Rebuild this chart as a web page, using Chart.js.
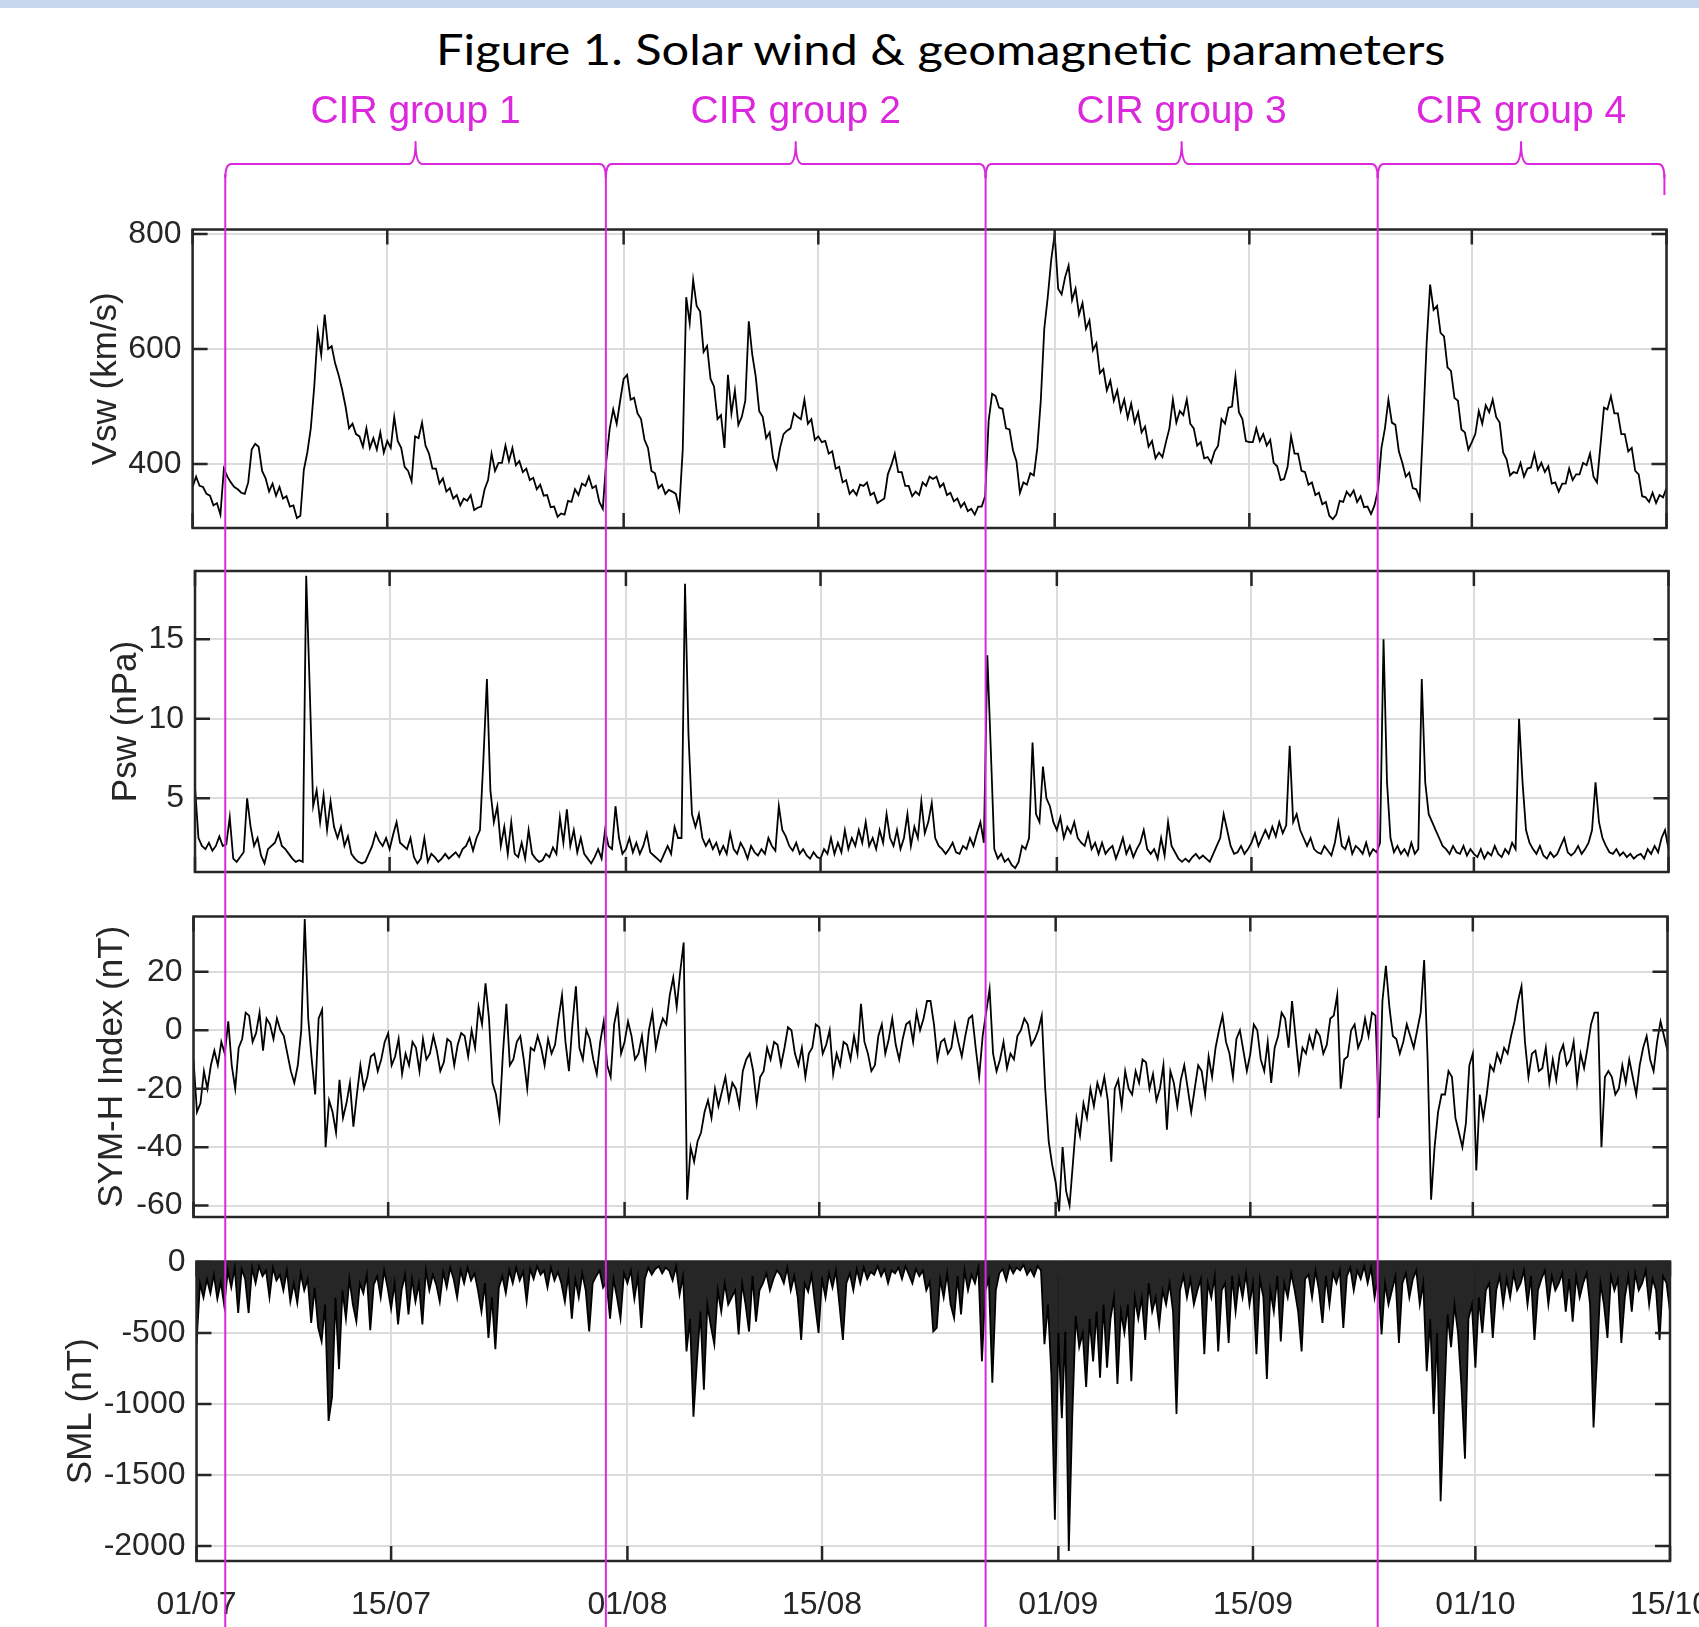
<!DOCTYPE html>
<html>
<head>
<meta charset="utf-8">
<title>Solar wind & geomagnetic parameters</title>
<script src="https://cdn.jsdelivr.net/npm/chart.js@4.4.1/dist/chart.umd.min.js"></script>
<style>
  html, body { margin: 0; padding: 0; background: #fff; overflow: hidden; }
  #page { position: relative; width: 1699px; height: 1627px; background: #fff; overflow: hidden; }
  #topbar { position: absolute; left: 0; top: 0; width: 1699px; height: 8px; background: #c6d9ec; }
  #title {
    position: absolute; top: 24px; left: 941px; white-space: nowrap;
    font-family: Lato, "Open Sans", sans-serif; font-size: 42px; line-height: 1.2; color: #000;
    transform-origin: 0 0;
  }
  .cir {
    position: absolute; top: 90px; white-space: nowrap;
    font-family: "Liberation Sans", Arial, sans-serif; font-size: 39px; line-height: 39px;
    color: #dc28dc; transform: translateX(-50%);
  }
  canvas.panel { position: absolute; left: 0; }
  #overlay { position: absolute; left: 0; top: 0; pointer-events: none; }
</style>
</head>
<body>
<div id="page">
  <div id="topbar"></div>
  <div id="title">Figure 1. Solar wind &amp; geomagnetic parameters</div>
  <canvas id="overlay" width="1699" height="1627"></canvas>
</div>
<script>
// x axis: days since 01/07
const xTickDays = [0, 14, 31, 45, 62, 76, 92, 106];
const xTickLabels = ['01/07', '15/07', '01/08', '15/08', '01/09', '15/09', '01/10', '15/10'];

// solar wind speed (km/s), one value every 6 hours, 4 per row = 1 day
const vswStep = 0.25;
const vsw = [
  360, 378, 362, 360,  348, 345, 328, 332,  312, 392, 378, 368,  360, 356, 350, 348,
  368, 425, 435, 430,  388, 375, 352, 366,  345, 360, 340, 344,  326, 328, 306, 310,
  390, 420, 462, 535,  630, 590, 660, 600,  605, 575, 555, 530,  500, 462, 470, 452,
  448, 430, 462, 428,  445, 425, 455, 420,  440, 428, 482, 440,  428, 395, 388, 370,
  448, 445, 472, 432,  418, 392, 392, 366,  375, 352, 358, 340,  346, 328, 340, 336,
  346, 320, 324, 326,  356, 372, 418, 388,  402, 402, 432, 405,  428, 398, 405, 386,
  392, 372, 376, 356,  364, 345, 346, 325,  326, 308, 314, 312,  336, 334, 356, 346,
  366, 362, 378, 358,  362, 334, 322, 405,  462, 495, 470, 510,  548, 555, 512, 515,
  488, 478, 442, 428,  388, 384, 358, 364,  348, 355, 352, 348,  322, 425, 690, 645,
  720, 675, 665, 595,  605, 548, 535, 478,  485, 428, 555, 488,  528, 468, 482, 510,
  648, 590, 552, 492,  482, 445, 455, 410,  392, 428, 452, 458,  462, 488, 482, 478,
  512, 470, 478, 442,  448, 438, 440, 418,  422, 392, 395, 368,  372, 348, 355, 346,
  364, 362, 368, 346,  350, 332, 336, 340,  382, 398, 418, 386,  386, 362, 362, 344,
  352, 346, 368, 362,  378, 374, 378, 360,  366, 346, 350, 335,  340, 325, 333, 318,
  322, 312, 326, 326,  344, 475, 522, 518,  498, 496, 462, 460,  424, 405, 350, 368,
  364, 384, 380, 428,  510, 635, 690, 755,  800, 705, 695, 725,  745, 685, 705, 660,
  680, 635, 650, 598,  610, 558, 565, 528,  545, 510, 528, 492,  512, 480, 505, 472,
  490, 455, 465, 430,  440, 410, 420, 412,  438, 462, 512, 472,  492, 485, 512, 470,
  462, 432, 438, 410,  412, 402, 422, 432,  478, 470, 498, 500,  552, 490, 478, 440,
  438, 438, 462, 440,  452, 432, 442, 402,  396, 372, 374, 395,  448, 418, 418, 388,
  386, 364, 368, 346,  350, 330, 334, 310,  304, 312, 336, 334,  352, 344, 354, 334,
  344, 325, 326, 313,  328, 355, 428, 462,  512, 472, 468, 422,  402, 378, 385, 358,
  356, 340, 468, 610,  712, 668, 675, 628,  622, 568, 562, 515,  510, 460, 455, 425,
  438, 452, 492, 470,  502, 490, 512, 482,  472, 420, 408, 380,  386, 384, 402, 378,
  392, 394, 418, 390,  402, 386, 396, 366,  368, 352, 366, 366,  392, 372, 382, 382,
  402, 398, 418, 378,  368, 432, 498, 495,  518, 488, 488, 452,  452, 422, 428, 388,
  382, 344, 342, 334,  350, 332, 346, 342,  358
];

// dynamic pressure (nPa), one value every 6 hours
const pswStep = 0.25;
const psw = [
  5.7, 2.5, 2.0, 1.8,  2.2, 1.7, 2.0, 2.6,  2.0, 2.1, 3.8, 1.2,  1.0, 1.3, 1.6, 5.0,
  3.2, 2.0, 2.5, 1.4,  0.9, 1.8, 2.0, 2.2,  2.8, 2.0, 1.8, 1.5,  1.2, 1.0, 1.1, 1.0,
  19.0, 12.0, 4.5, 5.5, 3.5, 5.2, 3.0, 4.8, 3.2, 2.5, 3.2, 2.0,  2.6, 1.5, 1.2, 1.0,
  0.9, 1.0, 1.5, 2.0,  2.8, 2.3, 2.0, 2.5,  1.8, 2.7, 3.5, 2.2,  2.0, 1.8, 2.5, 1.3,
  0.9, 1.2, 2.5, 1.0,  1.5, 1.3, 1.0, 1.2,  1.5, 1.2, 1.4, 1.6,  1.3, 1.8, 2.0, 2.5,
  1.7, 2.5, 3.0, 7.5,  12.5, 5.5, 3.5, 4.5, 2.0, 3.2, 1.5, 3.5,  1.5, 1.3, 2.2, 1.2,
  3.0, 1.5, 1.2, 1.0,  1.1, 1.5, 1.3, 1.9,  1.5, 3.8, 2.2, 4.3,  2.0, 3.0, 1.6, 2.5,
  1.5, 1.2, 0.9, 1.3,  1.8, 1.2, 3.0, 2.0,  1.8, 4.5, 2.5, 1.5,  1.8, 2.5, 1.6, 2.2,
  1.5, 2.0, 2.8, 1.6,  1.4, 1.2, 1.0, 1.5,  2.0, 1.5, 3.2, 2.5,  2.5, 18.5, 9.0, 4.0,
  3.2, 4.0, 2.5, 2.0,  2.4, 1.8, 2.2, 1.5,  2.0, 1.5, 2.8, 1.8,  1.5, 2.2, 1.8, 1.2,
  2.0, 1.6, 1.4, 1.8,  1.5, 2.5, 2.0, 1.7,  4.5, 3.0, 2.6, 2.0,  1.7, 2.2, 1.5, 1.8,
  1.4, 1.2, 1.6, 1.3,  1.2, 1.8, 1.5, 2.5,  1.5, 2.2, 1.6, 3.0,  1.8, 2.5, 2.0, 3.0,
  2.2, 3.5, 2.0, 2.5,  1.8, 3.0, 2.2, 4.0,  2.5, 2.0, 3.0, 1.8,  2.5, 4.0, 2.0, 3.2,
  2.5, 4.8, 2.8, 3.5,  4.7, 2.5, 2.0, 1.8,  1.5, 1.8, 2.2, 1.6,  1.5, 2.0, 1.8, 2.5,
  2.0, 2.8, 3.5, 2.2,  14.0, 8.0, 1.8, 1.2, 1.5, 1.0, 1.2, 0.8,  0.6, 1.0, 2.0, 1.8,
  2.5, 8.5, 4.0, 3.5,  7.0, 5.0, 4.5, 3.5,  3.0, 3.8, 2.5, 3.2,  2.8, 3.5, 2.5, 2.2,
  2.0, 2.8, 1.8, 2.2,  1.5, 2.2, 1.5, 1.8,  2.0, 1.2, 1.8, 2.5,  1.5, 2.0, 1.3, 1.8,
  2.2, 3.0, 1.8, 1.5,  1.8, 1.2, 2.5, 1.4,  3.5, 2.0, 1.6, 1.2,  1.0, 1.2, 1.0, 1.3,
  1.5, 1.2, 1.4, 1.2,  1.0, 1.5, 2.0, 2.5,  4.0, 3.0, 2.0, 1.5,  1.6, 2.0, 1.5, 1.8,
  2.2, 2.8, 2.0, 2.5,  3.0, 2.5, 3.2, 2.6,  3.5, 2.8, 3.3, 8.3,  3.5, 4.0, 3.0, 2.5,
  2.0, 2.5, 1.8, 1.6,  1.5, 2.0, 1.7, 1.4,  2.2, 3.5, 2.0, 1.8,  2.5, 1.5, 2.0, 1.8,
  1.5, 2.2, 1.4, 1.8,  1.6, 2.2, 15.0, 6.0, 2.5, 1.6, 2.0, 1.5,  1.8, 1.4, 2.2, 1.5,
  1.8, 12.5, 6.0, 4.0, 3.5, 3.0, 2.5, 2.0,  1.8, 1.5, 2.0, 1.6,  1.5, 2.0, 1.4, 1.8,
  1.5, 1.3, 1.8, 1.2,  1.6, 1.4, 2.0, 1.5,  1.3, 1.8, 1.5, 2.2,  1.8, 10.0, 6.0, 3.0,
  2.2, 1.8, 1.5, 2.0,  1.4, 1.2, 1.6, 1.3,  1.5, 2.0, 2.5, 1.6,  1.4, 1.6, 2.0, 1.5,
  1.8, 2.2, 3.0, 6.0,  3.5, 2.5, 2.0, 1.6,  1.5, 1.8, 1.4, 1.6,  1.3, 1.5, 1.2, 1.4,
  1.5, 1.2, 1.8, 1.5,  2.0, 1.6, 2.5, 3.0,  1.8
];

// SYM-H (nT), one value every 6 hours
const symhStep = 0.25;
const symh = [
  -10, -28, -25, -14,  -20, -12, -7, -12,  -4, -8, 3, -12,  -20, -6, -3, 6,
  5, -4, -1, 6,  -7, 4, 2, -3,  4, 0, -2, -8,  -14, -18, -12, 0,
  38, 4, -10, -22,  4, 7, -40, -24,  -28, -35, -17, -30,  -25, -18, -33, -22,
  -12, -20, -16, -9,  -8, -14, -10, -4,  -1, -12, -9, -3,  -15, -8, -12, -4,
  -6, -14, -3, -10,  -8, -2, -7, -14,  -11, -3, -4, -12,  -5, -1, -2, -9,
  0, -6, 8, 2,  16, 4, -18, -22,  -30, -8, 9, -12,  -10, -4, -2, -10,
  -20, -6, -7, -2,  -6, -12, -3, -8,  -5, 4, 12, -4,  -14, 2, 15, -6,
  -10, 0, -3, -10,  -15, -4, 3, -12,  -16, 2, 8, -8,  -4, 3, -2, -10,
  -8, -2, -12, 0,  6, -6, 0, 4,  2, 12, 18, 8,  20, 30, -58, -40,
  -45, -38, -35, -28,  -24, -30, -20, -26,  -21, -16, -24, -18,  -20, -26, -14, -10,
  -8, -14, -25, -16,  -14, -6, -10, -4,  -5, -12, -6, 1,  0, -8, -12, -6,
  -16, -8, -6, 2,  1, -8, -5, 0,  -15, -8, -12, -4,  -5, -10, -2, -8,
  9, -4, -8, -14,  -12, -2, 2, -8,  -3, 4, -5, -10,  -3, 2, 3, -4,
  6, 0, 4, 10,  10, 2, -10, -4,  -3, -8, -6, 2,  -4, -9, -2, 4,
  5, -6, -16, -2,  6, 14, -8, -14,  -10, -4, -13, -8,  -10, -2, 0, 4,
  2, -5, -3, 0,  5, -20, -38, -46,  -52, -62, -40, -55,  -60, -45, -30, -36,
  -25, -30, -20, -26,  -18, -22, -16, -24,  -45, -20, -17, -26,  -14, -20, -22, -14,
  -18, -10, -11, -20,  -15, -24, -20, -12,  -34, -14, -18, -26,  -17, -12, -20, -28,
  -20, -12, -14, -22,  -9, -16, -6, 0,  5, -4, -8, -16,  -3, 0, -7, -14,
  -8, 2, 0, -10,  -14, -4, -18, -6,  -2, 6, 4, -6,  10, -2, -14, -6,
  -8, -2, -6, 0,  -2, -8, -5, 4,  5, 12, -20, -10,  -9, 0, 2, -6,
  -3, 4, -2, 6,  5, -30, 10, 22,  8, -2, -3, -8,  -4, 2, -2, -6,
  0, 6, 24, -10,  -58, -40, -28, -22,  -22, -14, -16, -30,  -35, -40, -32, -12,
  -8, -48, -22, -30,  -22, -12, -14, -8,  -11, -6, -8, -2,  3, 10, 15, -4,
  -16, -8, -7, -14,  -13, -6, -18, -10,  -17, -8, -5, -12,  -10, -4, -18, -8,
  -13, -6, 2, 6,  6, -40, -16, -14,  -16, -22, -20, -12,  -18, -10, -16, -22,
  -12, -6, -2, -10,  -14, -4, 3, -2,  -7
];

// SML (nT), one value every 6 hours
const smlStep = 0.25;
const sml = [
  -580, -150, -250, -120,  -220, -90, -260, -140,  -310, -60, -180, -40,  -360, -50, -120, -360,
  -40, -150, -30, -100,  -60, -250, -40, -130,  -90, -200, -60, -280,  -150, -290, -80, -200,
  -120, -430, -180, -460,  -560, -300, -1120, -950,  -250, -755, -200, -400,  -120, -300, -420, -150,
  -220, -90, -480, -160,  -100, -250, -60, -180,  -330, -150, -440, -200,  -90, -370, -120, -280,
  -150, -440, -60, -200,  -90, -160, -280, -70,  -180, -40, -120, -250,  -60, -150, -40, -130,
  -80, -200, -350, -150,  -535, -250, -615, -180,  -100, -220, -60, -150,  -40, -130, -70, -280,
  -50, -120, -30, -90,  -60, -180, -40, -130,  -70, -150, -280, -90,  -400, -120, -250, -80,
  -200, -490, -150, -100,  -60, -180, -140, -400,  -120, -250, -400, -80,  -150, -60, -260, -100,
  -465, -120, -40, -90,  -50, -30, -80, -40,  -60, -130, -30, -230,  -100, -630, -400, -1090,
  -700, -350, -900, -300,  -450, -580, -200, -350,  -150, -300, -250, -200,  -510, -150, -300, -490,
  -100, -420, -200, -150,  -80, -200, -120, -60,  -90, -150, -40, -200,  -100, -250, -550, -150,
  -210, -90, -300, -500,  -120, -250, -80, -180,  -60, -300, -550, -150,  -80, -200, -50, -150,
  -40, -120, -70, -90,  -30, -100, -50, -150,  -60, -80, -40, -120,  -30, -90, -150, -50,
  -100, -60, -200, -140,  -490, -465, -120, -250,  -80, -300, -395, -100,  -370, -60, -200, -90,
  -150, -40, -700, -200,  -120, -850, -200, -80,  -50, -130, -30, -80,  -40, -60, -20, -90,
  -50, -100, -30, -60,  -580, -300, -800, -1815,  -500, -1100, -490, -2035,  -1090, -380, -600, -500,
  -880, -400, -700, -350,  -815, -300, -745, -400,  -250, -860, -350, -500,  -300, -840, -250, -400,
  -250, -550, -150, -350,  -250, -450, -200, -300,  -150, -350, -1070, -200,  -100, -250, -120, -300,
  -200, -120, -650, -150,  -250, -100, -630, -200,  -150, -570, -100, -350,  -120, -250, -80, -300,
  -150, -650, -120, -250,  -825, -200, -350, -100,  -560, -150, -250, -80,  -200, -350, -630, -120,
  -90, -250, -60, -200,  -430, -100, -300, -80,  -150, -60, -465, -100,  -40, -200, -60, -120,
  -30, -150, -40, -250,  -100, -510, -150, -300,  -200, -100, -570, -150,  -80, -250, -120, -60,
  -300, -150, -770, -400,  -1070, -500, -1685, -1000,  -370, -600, -300, -500,  -880, -1385, -400, -300,
  -745, -250, -500, -200,  -150, -535, -200, -100,  -300, -120, -250, -80,  -200, -150, -60, -300,
  -100, -550, -200, -120,  -60, -300, -100, -200,  -150, -80, -350, -120,  -420, -100, -250, -150,
  -80, -300, -1165, -675,  -150, -300, -535, -100,  -200, -120, -570, -250,  -100, -350, -80, -200,
  -150, -60, -300, -120,  -200, -550, -100, -150,  -350
];

const vswTicks = [400, 600, 800];
const pswTicks = [5, 10, 15];
const symhTicks = [-60, -40, -20, 0, 20];
const smlTicks = [-2000, -1500, -1000, -500, 0];

// CIR groups: labels and boundaries (days since 01/07)
const cirLabels = ['CIR group 1', 'CIR group 2', 'CIR group 3', 'CIR group 4'];
const cirBounds = [2.35, 29.72, 57.03, 85.23, 105.85];

const INK = '#262626';
const GRID = '#dcdcdc';
const MAGENTA = '#dc28dc';
const TICK_LEN = 15;

const panels = [
  { title: 'Vsw (km/s)', values: vsw, step: vswStep, ticks: vswTicks, min: 288.7, max: 807.8,
    top: 229.5, bottom: 528, left: 192.6, right: 1666.5, titleX: 106 },
  { title: 'Psw (nPa)', values: psw, step: pswStep, ticks: pswTicks, min: 0.36, max: 19.3,
    top: 571, bottom: 872, left: 195, right: 1668.5, titleX: 126 },
  { title: 'SYM-H Index (nT)', values: symh, step: symhStep, ticks: symhTicks, min: -63.9, max: 38.9,
    top: 916.5, bottom: 1217, left: 193.5, right: 1667.5, titleX: 112 },
  { title: 'SML (nT)', values: sml, step: smlStep, ticks: smlTicks, min: -2106, max: 3,
    top: 1261.5, bottom: 1561, left: 196.5, right: 1670, titleX: 81, xLabels: true, fill: 'origin' }
];

const frame = {
  id: 'frame',
  afterDraw(chart) {
    const { ctx, chartArea: a, scales: { x, y } } = chart;
    ctx.save();
    ctx.strokeStyle = INK;
    ctx.lineWidth = 2.5;
    ctx.beginPath();
    x.ticks.forEach(t => {
      const px = x.getPixelForValue(t.value);
      ctx.moveTo(px, a.bottom); ctx.lineTo(px, a.bottom - TICK_LEN);
      ctx.moveTo(px, a.top); ctx.lineTo(px, a.top + TICK_LEN);
    });
    y.ticks.forEach(t => {
      const py = y.getPixelForValue(t.value);
      ctx.moveTo(a.left, py); ctx.lineTo(a.left + TICK_LEN, py);
      ctx.moveTo(a.right, py); ctx.lineTo(a.right - TICK_LEN, py);
    });
    ctx.stroke();
    ctx.strokeRect(a.left, a.top, a.right - a.left, a.bottom - a.top);
    ctx.restore();
  }
};

const page = document.getElementById('page');
const overlay = document.getElementById('overlay');
const charts = [];

panels.forEach(p => {
  const canvasTop = Math.floor(p.top) - 30;
  const canvasH = p.xLabels ? 1627 - canvasTop : Math.ceil(p.bottom) + 20 - canvasTop;
  const below = canvasH - (p.bottom - canvasTop);
  const canvas = document.createElement('canvas');
  canvas.className = 'panel';
  canvas.width = 1699;
  canvas.height = canvasH;
  canvas.style.top = canvasTop + 'px';
  canvas.style.width = '1699px';
  canvas.style.height = canvasH + 'px';
  page.insertBefore(canvas, overlay);

  const points = p.values.map((v, i) => ({ x: i * p.step, y: v }));

  charts.push(new Chart(canvas, {
    type: 'line',
    data: {
      datasets: [{
        data: points,
        borderColor: '#000',
        backgroundColor: 'rgba(0,0,0,0.85)',
        borderWidth: 1.8,
        pointRadius: 0,
        tension: 0,
        fill: p.fill || false
      }]
    },
    options: {
      responsive: false,
      animation: false,
      devicePixelRatio: 1,
      events: [],
      layout: {
        padding: { left: 0, right: 1699 - p.right, top: p.top - canvasTop, bottom: p.xLabels ? 0 : below }
      },
      plugins: { legend: { display: false }, tooltip: { enabled: false } },
      scales: {
        x: {
          type: 'linear',
          min: 0,
          max: 106,
          afterBuildTicks: s => { s.ticks = xTickDays.map(v => ({ value: v })); },
          afterFit: s => { s.height = p.xLabels ? below : 0; s.paddingLeft = 0; s.paddingRight = 0; },
          grid: { color: GRID, lineWidth: 2, drawTicks: false },
          border: { display: false },
          ticks: {
            display: !!p.xLabels,
            autoSkip: false,
            maxRotation: 0,
            padding: 25,
            color: INK,
            font: { family: '"Liberation Sans", Arial, sans-serif', size: 32 },
            callback: v => xTickLabels[xTickDays.indexOf(v)]
          }
        },
        y: {
          type: 'linear',
          min: p.min,
          max: p.max,
          afterBuildTicks: s => { s.ticks = p.ticks.map(v => ({ value: v })); },
          afterFit: s => { s.width = p.left; s.paddingTop = 0; s.paddingBottom = 0; },
          grid: { color: GRID, lineWidth: 2, drawTicks: false },
          border: { display: false },
          ticks: {
            padding: 11,
            color: INK,
            font: { family: '"Liberation Sans", Arial, sans-serif', size: 32 },
            callback: v => String(v)
          },
          title: {
            display: true,
            text: p.title,
            color: INK,
            font: { family: '"Liberation Sans", Arial, sans-serif', size: 35 },
            padding: { top: p.titleX - 21, bottom: 0 }
          }
        }
      }
    },
    plugins: [frame]
  }));
});

// title: fit its width to the original figure
const title = document.getElementById('title');
const k = 1010 / title.offsetWidth;
title.style.transform = 'translateX(-505px) scaleX(' + k + ')';

// CIR group braces and boundary lines, placed with the top panel's x scale
const xs = charts[0].scales.x;
const ctx = overlay.getContext('2d');
const yLine = 164;
const yTip = 142;
const px = cirBounds.map(d => xs.getPixelForValue(d));

ctx.strokeStyle = MAGENTA;
ctx.lineWidth = 2;
ctx.lineJoin = 'round';
for (let g = 0; g < cirLabels.length; g++) {
  const a = px[g], b = px[g + 1], m = (a + b) / 2;
  ctx.beginPath();
  ctx.moveTo(a, yLine + 14);
  ctx.quadraticCurveTo(a, yLine, a + 6, yLine);
  ctx.lineTo(m - 7, yLine);
  ctx.quadraticCurveTo(m, yLine, m, yTip);
  ctx.quadraticCurveTo(m, yLine, m + 7, yLine);
  ctx.lineTo(b - 6, yLine);
  ctx.quadraticCurveTo(b, yLine, b, yLine + 14);
  ctx.stroke();

  const lab = document.createElement('div');
  lab.className = 'cir';
  lab.textContent = cirLabels[g];
  lab.style.left = m + 'px';
  page.appendChild(lab);
}
ctx.beginPath();
px.forEach((x, i) => {
  ctx.moveTo(x, yLine + 10);
  ctx.lineTo(x, i === px.length - 1 ? 195 : 1627);
});
ctx.stroke();
</script>
</body>
</html>
